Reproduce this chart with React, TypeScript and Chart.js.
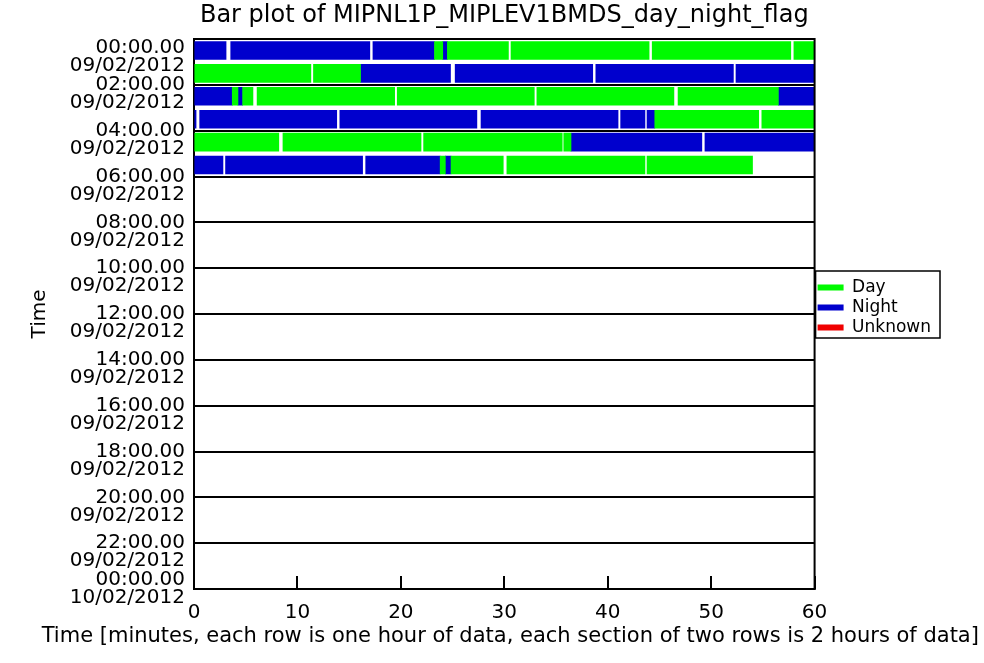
import React, { useEffect, useRef } from 'react';
import { Chart, registerables } from 'chart.js';

Chart.register(...registerables);

const titleText = 'Bar plot of MIPNL1P_MIPLEV1BMDS_day_night_flag';
const xAxisTitle = 'Time [minutes, each row is one hour of data, each section of two rows is 2 hours of data]';
const yAxisTitle = 'Time';

const flagNames = ['Day', 'Night', 'Unknown'];
const flagCodes = ['D', 'N', 'U'];
const flagColors = ['rgb(0,250,0)', 'rgb(0,0,205)', 'rgb(240,0,0)'];

const yTickTimes = ['00:00.00', '02:00.00', '04:00.00', '06:00.00', '08:00.00', '10:00.00', '12:00.00', '14:00.00', '16:00.00', '18:00.00', '20:00.00', '22:00.00', '00:00.00'];
const yTickDates = ['09/02/2012', '09/02/2012', '09/02/2012', '09/02/2012', '09/02/2012', '09/02/2012', '09/02/2012', '09/02/2012', '09/02/2012', '09/02/2012', '09/02/2012', '09/02/2012', '10/02/2012'];

// one entry per segment: row = hour of the day, start/end in minutes, flag D/N
const segRow = [
  0, 0, 0, 0, 0, 0, 0, 0, 0,
  1, 1, 1, 1, 1, 1,
  2, 2, 2, 2, 2, 2, 2, 2, 2,
  3, 3, 3, 3, 3, 3, 3, 3,
  4, 4, 4, 4, 4, 4,
  5, 5, 5, 5, 5, 5, 5, 5,
];
const segStart = [
  0, 3.55, 17.3, 23.25, 24.05, 24.5, 30.65, 44.3, 58.0,
  0, 11.55, 16.1, 25.25, 38.85, 52.4,
  0, 3.7, 4.25, 4.7, 6.1, 19.65, 33.15, 46.8, 56.5,
  0, 0.55, 14.1, 27.75, 41.25, 43.8, 44.55, 54.9,
  0, 8.6, 22.2, 35.75, 36.45, 49.4,
  0, 3.05, 16.6, 23.8, 24.3, 24.85, 30.25, 43.8,
];
const segEnd = [
  3.1, 17.0, 23.25, 24.05, 24.5, 30.4, 44.0, 57.7, 60,
  11.3, 16.1, 24.8, 38.55, 52.15, 60,
  3.7, 4.25, 4.7, 5.7, 19.4, 32.9, 46.4, 56.5, 60,
  0.2, 13.8, 27.35, 41.0, 43.6, 44.55, 54.6, 60,
  8.2, 21.95, 35.6, 36.45, 49.1, 60,
  2.8, 16.3, 23.8, 24.3, 24.85, 29.9, 43.6, 54.0,
];
const segFlag = [
  'N', 'N', 'N', 'D', 'N', 'D', 'D', 'D', 'D',
  'D', 'D', 'N', 'N', 'N', 'N',
  'N', 'D', 'N', 'D', 'D', 'D', 'D', 'D', 'N',
  'N', 'N', 'N', 'N', 'N', 'N', 'D', 'D',
  'D', 'D', 'D', 'D', 'N', 'N',
  'N', 'N', 'N', 'D', 'N', 'D', 'D', 'D',
];

const framePlugin = {
  id: 'frames',
  afterDraw(chart: any) {
    const ctx = chart.ctx;
    const a = chart.chartArea;
    const xs = chart.scales.x;
    ctx.save();
    ctx.strokeStyle = '#000';
    ctx.fillStyle = '#000';
    // right border of the plot
    ctx.fillRect(a.right - 1, a.top - 1, 2, a.bottom - a.top + 2);
    // inward tick marks on the x axis
    const tickVals: number[] = (xs.ticks || []).map((t: any) => Number(t.value));
    tickVals.forEach((v) => {
      const px = xs.getPixelForValue(v);
      if (!isFinite(px)) return;
      ctx.fillRect(Math.round(px) - 1, a.bottom - 13, 2, 13);
    });
    // x axis title (wider than the plot, so drawn here to avoid squeezing)
    ctx.font = "21px 'DejaVu Sans', sans-serif";
    ctx.textAlign = 'center';
    ctx.textBaseline = 'middle';
    ctx.fillText(xAxisTitle, (a.left + a.right) / 2 + 6, 637);
    // legend frame
    const boxes = chart.legend && chart.legend.legendHitBoxes;
    if (boxes && boxes.length) {
      let r = -Infinity, t = Infinity, b = -Infinity;
      boxes.forEach((h: any) => {
        t = Math.min(t, h.top);
        r = Math.max(r, h.left + h.width);
        b = Math.max(b, h.top + h.height);
      });
      const l = chart.legend.left + 1;
      ctx.lineWidth = 1.5;
      ctx.strokeRect(l, t - 8, r + 9 - l, b - t + 10);
    }
    ctx.restore();
  },
};

export default function App() {
  const ref = useRef<HTMLCanvasElement | null>(null);
  useEffect(() => {
    if (!ref.current) return;
    Chart.defaults.font.family = "'DejaVu Sans', sans-serif";
    Chart.defaults.color = '#000';
    const datasets = flagNames.map((name, fi) => ({
      label: name,
      data: segRow
        .map((r, i) => ({ r, i }))
        .filter(({ i }) => segFlag[i] === flagCodes[fi])
        .map(({ r, i }) => ({ x: [segStart[i], segEnd[i]], y: r + 0.5 })),
      backgroundColor: flagColors[fi],
      borderColor: flagColors[fi],
      borderWidth: 0,
      borderSkipped: false,
      grouped: false,
      barThickness: 18,
    }));
    const last = yTickTimes.length - 1;
    const chart = new Chart(ref.current, {
      type: 'bar',
      data: { datasets } as any,
      plugins: [framePlugin],
      options: {
        responsive: false,
        animation: false,
        indexAxis: 'y',
        layout: { padding: { left: 10, right: 43, top: 0, bottom: 0 } },
        plugins: {
          title: {
            display: true,
            fullSize: false,
            text: titleText,
            color: '#000',
            font: { size: 24, weight: 'normal', lineHeight: 1.1 },
            padding: { top: 3, bottom: 9.6 },
          },
          legend: {
            position: 'right',
            align: 'start',
            title: { display: true, text: '', font: { size: 10, lineHeight: 1 }, padding: { top: 133, bottom: 133 } },
            labels: {
              color: '#000',
              font: { size: 17 },
              boxWidth: 26,
              boxHeight: 6,
              padding: 3,
            },
          },
          tooltip: { enabled: false },
        },
        scales: {
          x: {
            type: 'linear',
            position: 'bottom',
            min: 0,
            max: 60,
            offset: false,
            ticks: { stepSize: 10, color: '#000', font: { size: 20 }, padding: 12, maxRotation: 0, autoSkip: false },
            grid: { drawOnChartArea: false, drawTicks: false, offset: false, color: '#000', lineWidth: 1.5 },
            border: { color: '#000', width: 2 },
            afterFit: (s: any) => { s.height = 74; s.paddingLeft = 0; s.paddingRight = 0; },
          },
          y: {
            type: 'linear',
            min: 0,
            max: 24,
            reverse: true,
            offset: false,
            ticks: {
              stepSize: 2,
              autoSkip: false,
              color: '#000',
              font: { size: 20, lineHeight: '18px' },
              padding: 9,
              labelOffset: 9,
              callback: (v: any) => {
                const i = Math.round(Number(v) / 2);
                if (i === 0) return ['', yTickTimes[i], yTickDates[i]];
                if (i === last) return [yTickTimes[i], yTickDates[i], ''];
                return [yTickTimes[i], yTickDates[i]];
              },
            },
            grid: { color: '#000', lineWidth: 2, drawTicks: false, offset: false },
            border: { color: '#000', width: 2 },
            title: { display: true, text: yAxisTitle, color: '#000', font: { size: 20 }, padding: { top: 18, bottom: 0 } },
            afterFit: (s: any) => { s.width = 184; s.paddingTop = 0; s.paddingBottom = 0; },
          },
        },
      } as any,
    });
    return () => chart.destroy();
  }, []);
  return (
    <div style={{ position: 'absolute', left: 0, top: 0, width: 984, height: 663, background: '#fff' }}>
      <canvas ref={ref} width={984} height={663} />
    </div>
  );
}
